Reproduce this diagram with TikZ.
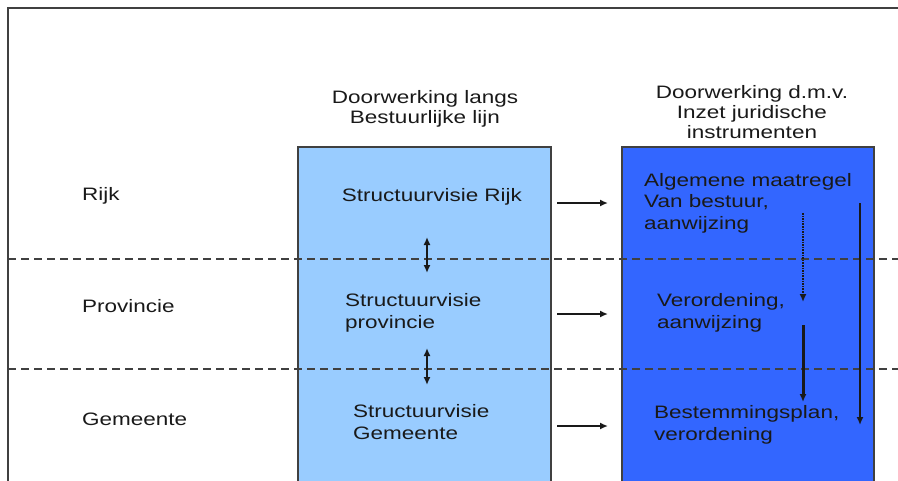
\documentclass[tikz,border=0pt]{standalone}
\usepackage{fontspec}
\setmainfont{Liberation Sans}[FakeStretch=1.25]
\usetikzlibrary{arrows.meta}
\definecolor{lichtblauw}{HTML}{99CCFF}
\definecolor{blauw}{HTML}{3366FF}
\definecolor{lijn}{HTML}{404040}

\begin{document}
\begin{tikzpicture}[x=1pt, y=-1pt, >={Latex[length=8pt,width=7pt]},
  font=\fontsize{18}{21.5}\selectfont,
  kolom/.style={draw=lijn, line width=1.5pt, minimum width=253pt, minimum height=336pt, inner sep=0pt},
  txt/.style={align=left, anchor=base west, inner sep=0pt, text=black!90},
  kop/.style={align=center, anchor=base, inner sep=0pt, text=black!90, font=\fontsize{18}{20}\selectfont},
  pijl/.style={->, line width=1.7pt, draw=black!90},
  scheiding/.style={dash pattern=on 8pt off 5pt, line width=1.2pt, draw=lijn}
]
  \useasboundingbox (0,0) rectangle (898,480);
  \clip (0,0) rectangle (898,480);

  % kolommen
  \node[kolom, fill=lichtblauw] (bestuur) at (424.5,315) {};
  \node[kolom, fill=blauw, minimum width=252pt] (juridisch) at (748,315) {};

  % kader en bestuurslagen
  \draw[lijn, line width=2pt] (8,482) -- (8,8) -- (898,8);
  \draw[scheiding] (8,259) -- (898,259);
  \draw[scheiding] (8,369) -- (898,369);

  \node[txt] (rijk) at (82,200) {Rijk};
  \node[txt] (provincie) at (82,312) {Provincie};
  \node[txt] (gemeente) at (82,425) {Gemeente};

  % koppen (base = laatste regel)
  \node[kop] (kopbestuur) at (425,123) {Doorwerking langs\\Bestuurlijke lijn};
  \node[kop] (kopjuridisch) at (752,138) {Doorwerking d.m.v.\\Inzet juridische\\instrumenten};

  % bestuurlijke lijn
  \node[txt, anchor=base] (svrijk) at (432,201) {Structuurvisie Rijk};
  \node[txt] (svprov) at (345,328) {Structuurvisie\\provincie};
  \node[txt] (svgem) at (353,439) {Structuurvisie\\Gemeente};

  % juridische instrumenten
  \node[txt] (amvb) at (644,229) {Algemene maatregel\\Van bestuur,\\aanwijzing};
  \node[txt] (verord) at (657,328) {Verordening,\\aanwijzing};
  \node[txt] (bplan) at (654,440) {Bestemmingsplan,\\verordening};

  % pijlen
  \foreach \y/\n in {203/1,314/2,426/3}{
    \coordinate (van\n) at (557,\y);
    \coordinate (naar\n) at (608,\y);
    \draw[pijl] (van\n) -- (naar\n);
  }
  \coordinate (wis1a) at (427,237); \coordinate (wis1b) at (427,273);
  \coordinate (wis2a) at (427,348); \coordinate (wis2b) at (427,385);
  \draw[pijl, <->] (wis1a) -- (wis1b);
  \draw[pijl, <->] (wis2a) -- (wis2b);

  \coordinate (stip1) at (803,213); \coordinate (stip2) at (803,302);
  \draw[pijl, line width=2.4pt, dash pattern=on 1.5pt off 1.1pt] (stip1) -- (stip2);
  \coordinate (lijn1) at (803,325); \coordinate (lijn2) at (803,402);
  \draw[pijl, line width=3pt] (lijn1) -- (lijn2);
  \coordinate (lang1) at (860,203); \coordinate (lang2) at (860,425);
  \draw[pijl, line width=2pt] (lang1) -- (lang2);
\end{tikzpicture}
\end{document}
